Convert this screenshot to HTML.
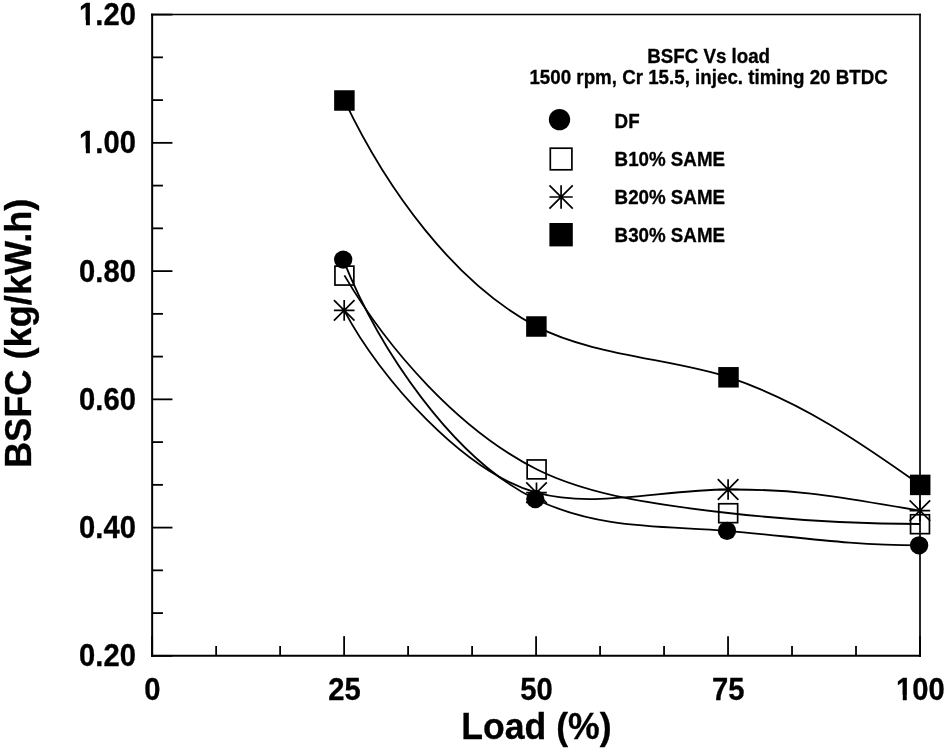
<!DOCTYPE html>
<html><head><meta charset="utf-8"><title>BSFC Vs load</title>
<style>html,body{margin:0;padding:0;background:#fff;}body{width:944px;height:753px;overflow:hidden;position:relative;}svg{display:block;position:absolute;left:0;top:0;filter:grayscale(1);}text{font-family:"Liberation Sans",sans-serif;font-weight:bold;fill:#000;stroke:#000;stroke-width:0.3px;stroke-linejoin:round;}</style>
</head><body>
<svg width="944" height="753" viewBox="0 0 944 753">
<rect x="0" y="0" width="944" height="753" fill="#fff"/>
<g stroke="#000" fill="none" stroke-linecap="butt">
<line x1="152.15" y1="13.85" x2="152.15" y2="656.85" stroke-width="2.0"/>
<line x1="151.15" y1="655.85" x2="921.0" y2="655.85" stroke-width="2.0"/>
<line x1="151.15" y1="14.6" x2="920.85" y2="14.6" stroke-width="1.5"/>
<line x1="920.0" y1="13.85" x2="920.0" y2="656.85" stroke-width="1.7"/>
<g stroke-width="1.8">
<line x1="151.15" y1="655.85" x2="172.45" y2="655.85"/>
<line x1="152.15" y1="613.10" x2="162.95" y2="613.10"/>
<line x1="152.15" y1="570.35" x2="162.95" y2="570.35"/>
<line x1="152.15" y1="527.60" x2="172.45" y2="527.60"/>
<line x1="152.15" y1="484.85" x2="162.95" y2="484.85"/>
<line x1="152.15" y1="442.10" x2="162.95" y2="442.10"/>
<line x1="152.15" y1="399.35" x2="172.45" y2="399.35"/>
<line x1="152.15" y1="356.60" x2="162.95" y2="356.60"/>
<line x1="152.15" y1="313.85" x2="162.95" y2="313.85"/>
<line x1="152.15" y1="271.10" x2="172.45" y2="271.10"/>
<line x1="152.15" y1="228.35" x2="162.95" y2="228.35"/>
<line x1="152.15" y1="185.60" x2="162.95" y2="185.60"/>
<line x1="152.15" y1="142.85" x2="172.45" y2="142.85"/>
<line x1="152.15" y1="100.10" x2="162.95" y2="100.10"/>
<line x1="152.15" y1="57.35" x2="162.95" y2="57.35"/>
<line x1="151.15" y1="14.60" x2="172.45" y2="14.60"/>
<line x1="152.15" y1="656.85" x2="152.15" y2="636.15"/>
<line x1="216.14" y1="655.85" x2="216.14" y2="646.00"/>
<line x1="280.12" y1="655.85" x2="280.12" y2="646.00"/>
<line x1="344.11" y1="655.85" x2="344.11" y2="636.15"/>
<line x1="408.10" y1="655.85" x2="408.10" y2="646.00"/>
<line x1="472.09" y1="655.85" x2="472.09" y2="646.00"/>
<line x1="536.08" y1="655.85" x2="536.08" y2="636.15"/>
<line x1="600.06" y1="655.85" x2="600.06" y2="646.00"/>
<line x1="664.05" y1="655.85" x2="664.05" y2="646.00"/>
<line x1="728.04" y1="655.85" x2="728.04" y2="636.15"/>
<line x1="792.02" y1="655.85" x2="792.02" y2="646.00"/>
<line x1="856.01" y1="655.85" x2="856.01" y2="646.00"/>
<line x1="920.00" y1="656.85" x2="920.00" y2="636.15"/>
</g></g>
<g font-size="29.2px">
<g transform="translate(135.9,665.95) scale(1,1.065)"><text text-anchor="end">0.20</text></g>
<g transform="translate(135.9,537.81) scale(1,1.065)"><text text-anchor="end">0.40</text></g>
<g transform="translate(135.9,409.67) scale(1,1.065)"><text text-anchor="end">0.60</text></g>
<g transform="translate(135.9,281.53) scale(1,1.065)"><text text-anchor="end">0.80</text></g>
<g transform="translate(135.9,153.39) scale(1,1.065)"><text text-anchor="end">1.00</text><rect x="-56.19" y="-4.68" width="6.18" height="5.68" fill="#fff"/><rect x="-46.01" y="-4.68" width="5.61" height="5.68" fill="#fff"/></g>
<g transform="translate(135.9,25.25) scale(1,1.065)"><text text-anchor="end">1.20</text><rect x="-56.19" y="-4.68" width="6.18" height="5.68" fill="#fff"/><rect x="-46.01" y="-4.68" width="5.61" height="5.68" fill="#fff"/></g>
<g transform="translate(152.45,700.0) scale(1,1.065)"><text text-anchor="middle">0</text></g>
<g transform="translate(344.41,700.0) scale(1,1.065)"><text text-anchor="middle">25</text></g>
<g transform="translate(536.38,700.0) scale(1,1.065)"><text text-anchor="middle">50</text></g>
<g transform="translate(728.34,700.0) scale(1,1.065)"><text text-anchor="middle">75</text></g>
<g transform="translate(920.30,700.0) scale(1,1.065)"><text text-anchor="middle">100</text><rect x="-23.72" y="-4.68" width="6.18" height="5.68" fill="#fff"/><rect x="-13.54" y="-4.68" width="5.61" height="5.68" fill="#fff"/></g>
</g>
<text transform="translate(536.4,738.9) scale(1,1.055)" font-size="35.6px" text-anchor="middle">Load (%)</text>
<text transform="translate(30.9,333.3) rotate(-90) scale(1,1.045)" font-size="36.2px" text-anchor="middle">BSFC (kg/kW.h)</text>
<g font-size="18.75px">
<text transform="translate(708.6,63.4) scale(1,1.06)" text-anchor="middle">BSFC Vs load</text>
<text transform="translate(708.6,83.9) scale(1,1.06)" text-anchor="middle">1500 rpm, Cr 15.5, injec. timing 20 BTDC</text>
<text transform="translate(614.6,128.0) scale(1,1.06)">DF</text>
<text transform="translate(614.6,165.8) scale(1,1.06)">B10% SAME</text>
<text transform="translate(614.6,203.6) scale(1,1.06)">B20% SAME</text>
<text transform="translate(614.6,241.5) scale(1,1.06)">B30% SAME</text>
</g>
<g fill="none" stroke="#000" stroke-width="1.8">
<path d="M343.20 259.60C378.67 348.88 452.89 459.16 535.30 499.00C599.48 530.02 664.42 525.59 727.00 530.80C794.06 536.39 847.38 545.30 919.10 545.30"/>
<path d="M344.40 275.40C388.05 349.77 459.07 430.14 536.60 469.20C592.60 497.41 669.90 506.39 728.20 513.00C796.93 520.79 851.89 524.00 920.00 524.00"/>
<path d="M344.20 310.40C380.24 379.01 464.18 472.42 536.50 492.70C592.87 508.50 660.87 489.99 728.10 489.50C807.54 488.92 850.52 499.56 919.90 510.60"/>
<path d="M344.40 100.40C386.60 189.14 454.26 283.08 536.40 326.40C592.13 355.79 674.27 358.96 728.50 377.20C808.60 404.14 872.44 451.52 920.20 484.80"/>
</g>
<rect x="334.95" y="266.15" width="18.90" height="18.90" fill="none" stroke="#000" stroke-width="1.7"/>
<rect x="527.15" y="459.95" width="18.90" height="18.90" fill="none" stroke="#000" stroke-width="1.7"/>
<rect x="718.75" y="503.75" width="18.90" height="18.90" fill="none" stroke="#000" stroke-width="1.7"/>
<rect x="910.55" y="514.75" width="18.90" height="18.90" fill="none" stroke="#000" stroke-width="1.7"/>
<path d="M333.90 310.40H354.50M344.20 300.10V320.70M333.90 300.10L354.50 320.70M333.90 320.70L354.50 300.10" fill="none" stroke="#000" stroke-width="1.7"/>
<path d="M526.20 492.70H546.80M536.50 482.40V503.00M526.20 482.40L546.80 503.00M526.20 503.00L546.80 482.40" fill="none" stroke="#000" stroke-width="1.7"/>
<path d="M717.80 489.50H738.40M728.10 479.20V499.80M717.80 479.20L738.40 499.80M717.80 499.80L738.40 479.20" fill="none" stroke="#000" stroke-width="1.7"/>
<path d="M909.60 510.60H930.20M919.90 500.30V520.90M909.60 500.30L930.20 520.90M909.60 520.90L930.20 500.30" fill="none" stroke="#000" stroke-width="1.7"/>
<rect x="334.15" y="90.25" width="20.50" height="20.50" fill="#000"/>
<rect x="526.15" y="316.25" width="20.50" height="20.50" fill="#000"/>
<rect x="718.25" y="367.05" width="20.50" height="20.50" fill="#000"/>
<rect x="909.95" y="474.65" width="20.50" height="20.50" fill="#000"/>
<circle cx="343.20" cy="259.60" r="9.15" fill="#000"/>
<circle cx="535.30" cy="499.00" r="9.15" fill="#000"/>
<circle cx="727.00" cy="530.80" r="9.15" fill="#000"/>
<circle cx="919.10" cy="545.30" r="9.15" fill="#000"/>
<circle cx="559.50" cy="119.60" r="10.65" fill="#000"/>
<rect x="550.30" y="148.20" width="21.60" height="21.60" fill="none" stroke="#000" stroke-width="1.7"/>
<path d="M549.45 197.00H572.75M561.10 185.35V208.65M549.45 185.35L572.75 208.65M549.45 208.65L572.75 185.35" fill="none" stroke="#000" stroke-width="1.7"/>
<rect x="549.40" y="223.00" width="23.40" height="23.40" fill="#000"/>
</svg></body></html>
